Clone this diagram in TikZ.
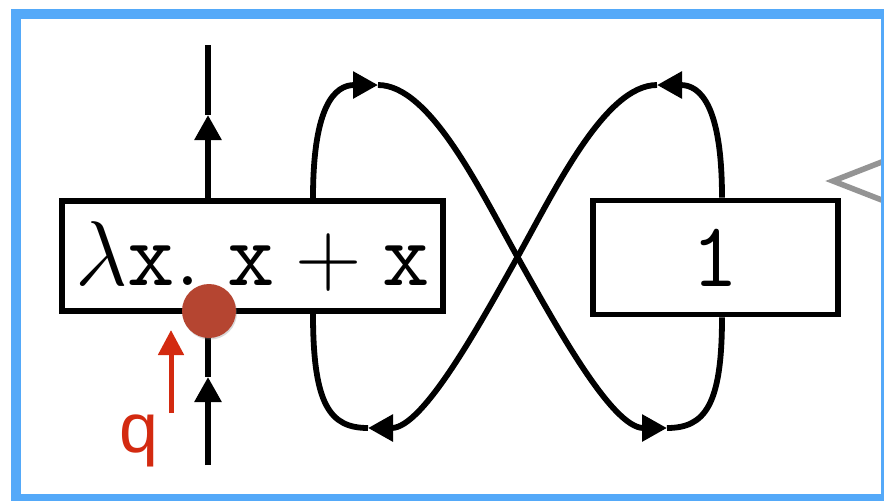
\RequirePackage{fix-cm}
\documentclass[tikz,border=0pt]{standalone}
\usepackage{fontspec}
\usepackage{tikz}
\usetikzlibrary{arrows.meta,positioning,calc,shadows}
\usepackage{xcolor}
\newfontfamily\qfont{Liberation Sans}
\definecolor{frameblue}{RGB}{84,169,249}
\definecolor{dotred}{RGB}{181,69,49}
\definecolor{qred}{RGB}{211,42,16}

\begin{document}
\begin{tikzpicture}[x=0.5pt,y=-0.5pt,
  wire/.style={line width=2.9pt},
  tip/.style={-{Triangle[length=12.5pt,width=13pt]}},
  termbox/.style={draw,line width=2.9pt,inner sep=0pt,font=\fontsize{46}{55}\selectfont}]
\useasboundingbox (0,0) rectangle (884,500);
% pointer of the bubble on the right, cut by the frame
\draw[line width=2.8pt,draw=black!42,fill=white,line join=miter] (892,158) -- (833,181) -- (892,204);

\node[termbox,minimum width=190.5pt,minimum height=55pt] (fun) at (252.5,256) {$\lambda\mathtt{x}.\ \mathtt{x}+\mathtt{x}$};
\node[termbox,minimum width=122.5pt,minimum height=57pt] (one) at (715.5,257.5) {$\mathtt{1}$};

% the through wire
\coordinate (in) at (208,465);
\coordinate (out) at (208,45);
\coordinate (inTip) at (208,377);
\coordinate (outTip) at (208,115);
\draw[wire,tip] (in) -- (inTip);
\draw[wire] (inTip) -- (in |- fun.south);
\draw[wire,tip] (out |- fun.north) -- (outTip);
\draw[wire] (outTip) -- (out);

% the crossed loops
\coordinate (lx) at (313,0);
\coordinate (rx) at (722,0);
\coordinate (mid) at (517.5,257);
\coordinate (topA) at (378,85);
\coordinate (botA) at (667,428);
\coordinate (topB) at (657,85);
\coordinate (botB) at (368,428);
\draw[wire,tip] (fun.north -| lx) .. controls (313,105) and (335,85) .. (topA);
\draw[wire,tip] (topA) .. controls (430,85) and (480,190) .. (mid)
  .. controls (555,324) and (612,428) .. (botA);
\draw[wire] (botA) .. controls (705,428) and (722,405) .. (one.south -| rx);
\draw[wire,tip] (one.north -| rx) .. controls (722,105) and (700,85) .. (topB);
\draw[wire,tip] (topB) .. controls (605,85) and (555,190) .. (mid)
  .. controls (480,324) and (423,428) .. (botB);
\draw[wire] (botB) .. controls (330,428) and (313,405) .. (fun.south -| lx);

% the probe q
\node[circle,fill=dotred,minimum size=27pt,inner sep=0pt,
  drop shadow={shadow xshift=0.5pt,shadow yshift=-0.8pt,opacity=0.3}] (probe) at (209,311) {};
\coordinate (qs) at (171,413);
\coordinate (qt) at (171,330);
\draw[line width=2.5pt,qred,-{Triangle[length=12.5pt,width=12.5pt]}] (qs) -- (qt);
\node[qred,anchor=base,font=\qfont\fontsize{35}{40}\selectfont] (qlab) at (139,452) {q};

\draw[line width=5pt,frameblue] (16,13.5) rectangle (886,499);
\end{tikzpicture}
\end{document}
